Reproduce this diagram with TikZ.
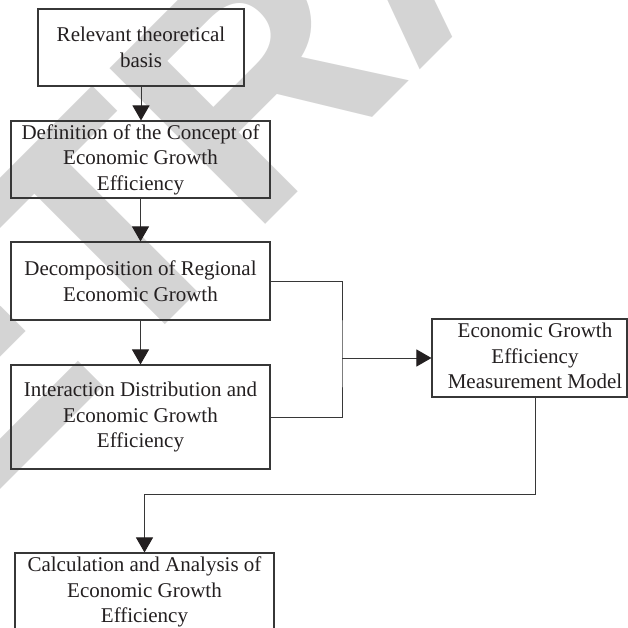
\documentclass[tikz,border=0pt]{standalone}
\usepackage{fontspec}
\setmainfont{Liberation Serif}
\newfontfamily\wmfont[Kerning=Off]{Liberation Sans}
\usetikzlibrary{arrows.meta}
\definecolor{wm}{RGB}{212,212,212}
\definecolor{ink}{RGB}{35,31,32}
\definecolor{edge}{RGB}{55,55,55}
\tikzset{
  box/.style={draw=edge, line width=1.1pt, inner sep=0pt, align=center, text=ink,
    font=\fontsize{21}{25.6}\selectfont},
  link/.style={draw=edge, line width=1pt},
  arr/.style={link, -{Triangle[length=15pt,width=17pt,color=ink,fill=ink]}}
}
\begin{document}
\begin{tikzpicture}[x=1pt,y=-1pt]
\useasboundingbox (0,0) rectangle (628,628);
\clip (0,0) rectangle (628,628);
\node[rotate=45, anchor=base west, inner sep=0pt, text=wm,
  font={\wmfont\fontsize{320}{320}\selectfont\bfseries}] (wmk) at (-202,692) {RETRACTED};
\node[box, minimum width=206pt, minimum height=77pt] (b1) at (141,47.5) {Relevant theoretical\\basis};
\node[box, minimum width=259pt, minimum height=77pt] (b2) at (140.5,159.5) {Definition of the Concept of\\Economic Growth\\Efficiency};
\node[box, minimum width=259pt, minimum height=78pt] (b3) at (140.5,281) {Decomposition of Regional\\Economic Growth};
\node[box, minimum width=259pt, minimum height=104pt] (b4) at (140.5,417) {Interaction Distribution and\\Economic Growth\\Efficiency};
\node[box, minimum width=195pt, minimum height=78pt] (b5) at (529.5,358) {\hspace*{11pt}\begin{tabular}{@{}c@{}}Economic Growth\\Efficiency\\Measurement Model\end{tabular}};
\node[box, minimum width=259pt, minimum height=78pt] (b6) at (144.5,592) {Calculation and Analysis of\\Economic Growth\\Efficiency};
\draw[arr] (b1.south) -- (b1.south |- b2.north);
\draw[arr] (b2.south) -- (b3.north);
\draw[arr] (b3.south) -- (b4.north);
\coordinate (j) at (342,358);
\coordinate (k) at (143,494);
\draw[link] (b3.east) -| (j) |- (b4.east);
\draw[arr] (j) -- (b5.west);
\draw[arr] ([xshift=5.5pt]b5.south) |- (b6.north |- k) -- (b6.north);
\end{tikzpicture}
\end{document}
